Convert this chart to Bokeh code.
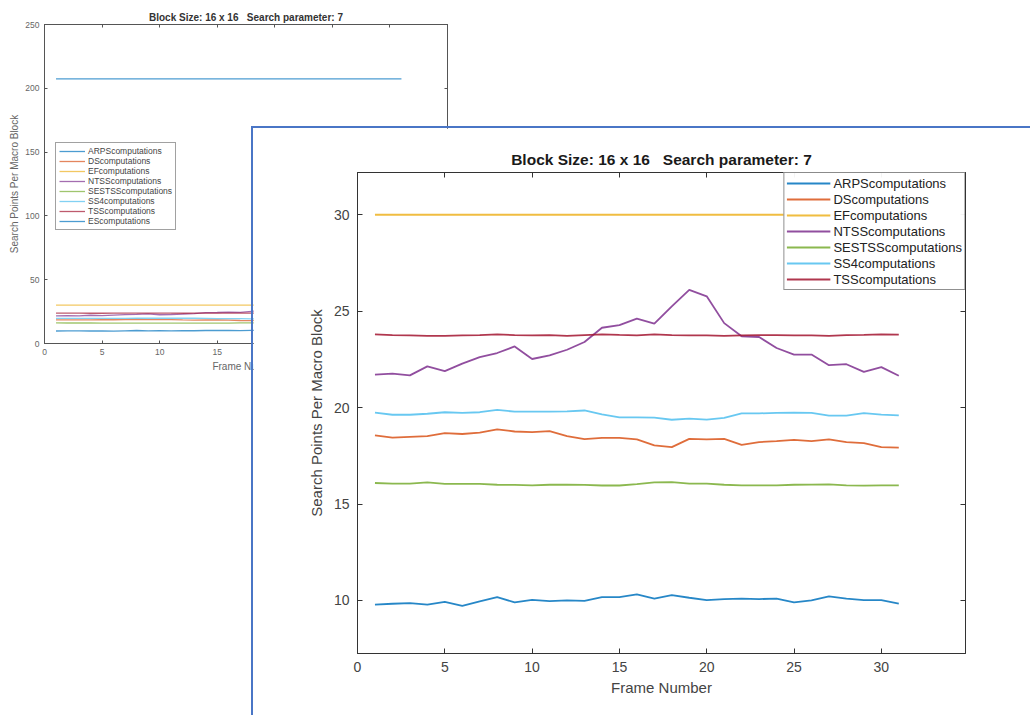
from bokeh.plotting import figure
from bokeh.models import Range1d, LinearAxis, FixedTicker, CustomJSTickFormatter
from bokeh.layouts import column
from bokeh.embed import file_html
from bokeh.resources import INLINE

# ---------------- data ----------------
frames = [1, 2, 3, 4, 5, 6, 7, 8, 9, 10, 11, 12, 13, 14, 15, 16,
          17, 18, 19, 20, 21, 22, 23, 24, 25, 26, 27, 28, 29, 30, 31]

arps = [9.78, 9.83, 9.86, 9.78, 9.93, 9.72, 9.95, 10.17, 9.90, 10.03, 9.97,
        10.00, 9.98, 10.17, 10.17, 10.31, 10.10, 10.28, 10.14, 10.02, 10.07,
        10.10, 10.07, 10.10, 9.90, 10.00, 10.21, 10.09, 10.02, 10.02, 9.83]
ds = [18.56, 18.44, 18.48, 18.52, 18.68, 18.63, 18.70, 18.87, 18.76, 18.73,
      18.78, 18.52, 18.37, 18.43, 18.43, 18.35, 18.04, 17.95, 18.38, 18.35,
      18.38, 18.07, 18.21, 18.26, 18.33, 18.26, 18.35, 18.21, 18.16, 17.95, 17.92]
ef = [30.0, 30.0, 30.0, 30.0, 30.0, 30.0, 30.0, 30.0, 30.0, 30.0, 30.0,
      30.0, 30.0, 30.0, 30.0, 30.0, 30.0, 30.0, 30.0, 30.0, 30.0, 30.0,
      30.0, 30.0, 30.0, 30.0, 30.0, 30.0, 30.0, 30.0, 30.0]
ntss = [21.71, 21.76, 21.67, 22.14, 21.89, 22.28, 22.62, 22.83, 23.17, 22.52,
        22.71, 23.00, 23.40, 24.14, 24.28, 24.61, 24.35, 25.25, 26.10, 25.77,
        24.38, 23.70, 23.66, 23.09, 22.75, 22.75, 22.20, 22.25, 21.85, 22.10, 21.65]
sestss = [16.09, 16.06, 16.06, 16.12, 16.04, 16.04, 16.04, 16.00, 15.99, 15.97,
          16.00, 16.00, 15.99, 15.96, 15.96, 16.03, 16.12, 16.14, 16.06, 16.06,
          16.00, 15.97, 15.97, 15.97, 16.00, 16.01, 16.02, 15.97, 15.95, 15.97, 15.97]
ss4 = [19.74, 19.63, 19.63, 19.68, 19.76, 19.73, 19.76, 19.88, 19.79, 19.79,
       19.79, 19.80, 19.85, 19.65, 19.49, 19.49, 19.48, 19.37, 19.43, 19.38,
       19.47, 19.70, 19.70, 19.73, 19.74, 19.73, 19.58, 19.58, 19.71, 19.64, 19.60]
tss = [23.80, 23.76, 23.75, 23.72, 23.72, 23.75, 23.76, 23.80, 23.76, 23.75,
       23.76, 23.72, 23.76, 23.80, 23.77, 23.75, 23.80, 23.76, 23.75, 23.74,
       23.72, 23.74, 23.76, 23.76, 23.75, 23.75, 23.72, 23.76, 23.77, 23.80, 23.78]
es = [207.4, 207.4, 207.4, 207.4, 207.4, 207.4, 207.4, 207.4, 207.4, 207.4,
      207.4, 207.4, 207.4, 207.4, 207.4, 207.4, 207.4, 207.4, 207.4, 207.4,
      207.4, 207.4, 207.4, 207.4, 207.4, 207.4, 207.4, 207.4, 207.4, 207.4, 207.4]

series_names = ["ARPScomputations", "DScomputations", "EFcomputations",
                "NTSScomputations", "SESTSScomputations", "SS4computations",
                "TSScomputations", "EScomputations"]
series_colors = ["#0072BD", "#D95319", "#EDB120", "#7E2F8E", "#77AC30",
                 "#4DBEEE", "#A2142F", "#0072BD"]

title_text = "Block Size: 16 x 16 \u00a0 Search parameter: 7"
x_label = "Frame Number"
y_label = "Search Points Per Macro Block"

bg_xticks = [0, 5, 10, 15, 20, 25, 30, 35]
bg_yticks = [0, 50, 100, 150, 200, 250]
fg_xticks = [0, 5, 10, 15, 20, 25, 30]
fg_yticks = [10, 15, 20, 25, 30]

FONT = "Liberation Sans"


def style_axis(ax, ticks, size, color, line_color, standoff, lab_size=None,
               lab_standoff=0, tick_len=4):
    ax.ticker = FixedTicker(ticks=ticks)
    ax.major_tick_in = tick_len
    ax.major_tick_out = 0
    ax.minor_tick_line_color = None
    ax.axis_line_color = line_color
    ax.major_tick_line_color = line_color
    ax.major_label_text_font = FONT
    ax.major_label_text_font_size = size
    ax.major_label_text_color = color
    ax.major_label_standoff = standoff
    if lab_size:
        ax.axis_label_text_font = FONT
        ax.axis_label_text_font_size = lab_size
        ax.axis_label_text_font_style = "normal"
        ax.axis_label_text_color = color
        ax.axis_label_standoff = lab_standoff


def mirror_axis(p, where, ticks, line_color, tick_len):
    ax = LinearAxis(ticker=FixedTicker(ticks=ticks),
                    formatter=CustomJSTickFormatter(code="return ''"))
    ax.major_tick_in = tick_len
    ax.major_tick_out = 0
    ax.minor_tick_line_color = None
    ax.axis_line_color = line_color
    ax.major_tick_line_color = line_color
    ax.major_label_text_font_size = "0px"
    ax.major_label_standoff = 0
    p.add_layout(ax, where)


# Both figures share the same left/right border widths (the column aligns
# them); the page offsets below place each frame where the reference has it.
BORDER_L = 104
BORDER_R = 67

# ---------------- background figure ----------------
p1 = figure(width=574, height=717, x_range=Range1d(0, 35),
            y_range=Range1d(0, 250), output_backend="svg",
            toolbar_location=None, min_border_left=BORDER_L,
            min_border_right=BORDER_R, min_border_top=24,
            min_border_bottom=374, title=title_text,
            x_axis_label=x_label, y_axis_label=y_label)
p1.background_fill_color = "white"
p1.border_fill_color = "white"
p1.outline_line_color = "#555555"
p1.xgrid.visible = False
p1.ygrid.visible = False
p1.title.align = "center"
p1.title.text_font = FONT
p1.title.text_font_size = "10px"
p1.title.text_font_style = "bold"
p1.title.text_color = "#333333"
p1.title.standoff = 3
style_axis(p1.xaxis[0], bg_xticks, "8.5px", "#666666", "#555555", 5, "10px", 3, 3)
style_axis(p1.yaxis[0], bg_yticks, "8.5px", "#666666", "#555555", 5, "10px", 2, 3)
mirror_axis(p1, "above", bg_xticks, "#555555", 3)
mirror_axis(p1, "right", bg_yticks, "#555555", 3)

bg_values = [arps, ds, ef, ntss, sestss, ss4, tss, es]
for vals, name, col in zip(bg_values, series_names, series_colors):
    p1.line(frames, vals, line_color=col, line_width=1.3, line_alpha=0.7,
            legend_label=name)
lg1 = p1.legend[0]
lg1.location = (11, 113)
lg1.margin = 0
lg1.padding = 3
lg1.spacing = 0
lg1.glyph_width = 26
lg1.glyph_height = 10
lg1.label_height = 10
lg1.label_standoff = 3
lg1.label_text_font = FONT
lg1.label_text_font_size = "8.5px"
lg1.label_text_color = "#444444"
lg1.border_line_color = "#444444"
lg1.border_line_width = 1
lg1.background_fill_color = "white"

# ---------------- foreground figure ----------------
p2 = figure(width=779, height=589, x_range=Range1d(0, 34.82),
            y_range=Range1d(7.25, 32.19), output_backend="svg",
            toolbar_location=None, min_border_left=BORDER_L,
            min_border_right=BORDER_R, min_border_top=44,
            min_border_bottom=64, title=title_text,
            x_axis_label=x_label, y_axis_label=y_label)
p2.background_fill_color = "white"
p2.border_fill_color = "white"
p2.outline_line_color = "#333333"
p2.xgrid.visible = False
p2.ygrid.visible = False
p2.title.align = "center"
p2.title.text_font = FONT
p2.title.text_font_size = "15.5px"
p2.title.text_font_style = "bold"
p2.title.text_color = "#1a1a1a"
p2.title.standoff = 10
style_axis(p2.xaxis[0], fg_xticks, "14px", "#444444", "#333333", 8, "15px", 4, 5)
style_axis(p2.yaxis[0], fg_yticks, "14px", "#444444", "#333333", 8, "15px", 6, 5)
mirror_axis(p2, "above", fg_xticks, "#333333", 5)
mirror_axis(p2, "right", fg_yticks, "#333333", 5)

fg_values = [arps, ds, ef, ntss, sestss, ss4, tss]
for vals, name, col in zip(fg_values, series_names[:7], series_colors[:7]):
    p2.line(frames, vals, line_color=col, line_width=1.8, line_alpha=0.85,
            legend_label=name)
lg2 = p2.legend[0]
lg2.location = "top_right"
lg2.margin = 0
lg2.padding = 2
lg2.spacing = 0
lg2.glyph_width = 44
lg2.glyph_height = 16
lg2.label_height = 16
lg2.label_standoff = 3
lg2.label_text_font = FONT
lg2.label_text_font_size = "13px"
lg2.label_text_color = "#222222"
lg2.border_line_color = "#222222"
lg2.border_line_width = 1
lg2.background_fill_color = "white"

p1.styles = {"position": "absolute", "left": "-60px", "top": "0px"}
p2.styles = {"position": "absolute", "left": "251px", "top": "126px",
             "border-left": "2px solid #4a76c6",
             "border-top": "2px solid #4a76c6"}

root = column(p1, p2)
root.styles = {"position": "relative", "width": "1032px", "height": "717px",
               "overflow": "hidden"}

open("out.html", "w").write(file_html(root, INLINE))
